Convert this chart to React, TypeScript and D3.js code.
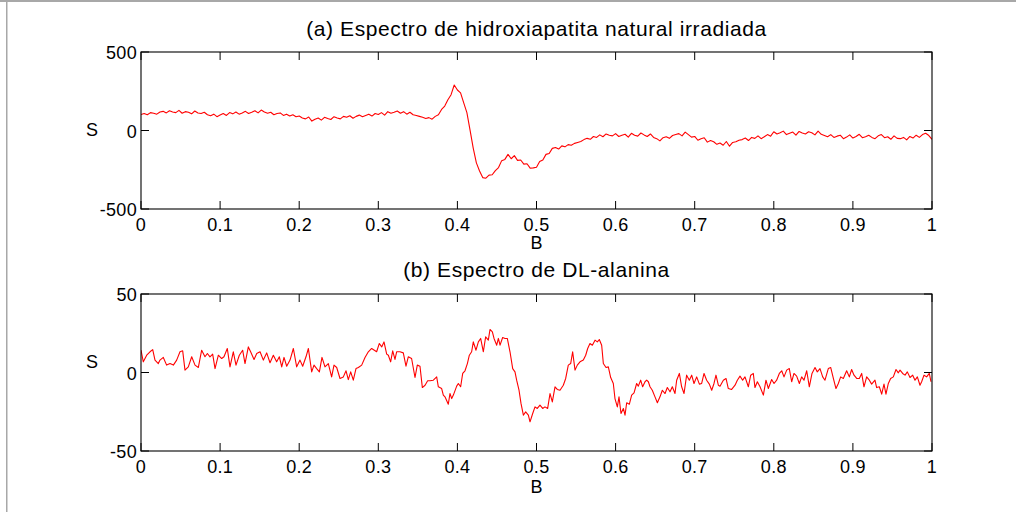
import React from 'react';
import * as d3 from 'd3';

// ---------- data ----------
const B_TICKS = [0, 0.1, 0.2, 0.3, 0.4, 0.5, 0.6, 0.7, 0.8, 0.9, 1];
const B_TICK_LABELS = ['0', '0.1', '0.2', '0.3', '0.4', '0.5', '0.6', '0.7', '0.8', '0.9', '1'];

const S1_TICKS = [-500, 0, 500];
const S1_TICK_LABELS = ['-500', '0', '500'];
const S2_TICKS = [-50, 0, 50];
const S2_TICK_LABELS = ['-50', '0', '50'];

const TITLE_A = '(a) Espectro de hidroxiapatita natural irradiada';
const TITLE_B = '(b) Espectro de DL-alanina';

const S1_STEP = 0.004;
const S1_VALUES = [
  102, 108, 100, 114, 110, 104, 118, 122, 112, 126,
  118, 114, 128, 110, 120, 116, 106, 124, 112, 108,
  116, 100, 94, 104, 88, 98, 108, 96, 114, 106,
  118, 104, 112, 122, 108, 116, 126, 112, 130, 118,
  110, 116, 100, 108, 112, 96, 104, 92, 100, 88,
  92, 80, 74, 86, 60, 72, 80, 66, 84, 76,
  70, 88, 80, 74, 90, 84, 94, 78, 90, 98,
  88, 96, 104, 92, 108, 102, 114, 98, 120, 110,
  116, 124, 110, 120, 104, 116, 100, 96, 90, 84,
  76, 82, 72, 90, 100, 134, 156, 196, 228, 290,
  258, 240, 176, 114, 2, -112, -206, -258, -300, -304,
  -284, -282, -256, -236, -192, -184, -152, -180, -160, -190,
  -188, -214, -212, -240, -238, -234, -198, -188, -152, -146,
  -114, -108, -118, -98, -104, -90, -94, -82, -76, -70,
  -58, -50, -56, -38, -44, -28, -40, -22, -30, -34,
  -20, -38, -30, -24, -42, -18, -30, -36, -16, -28,
  -38, -22, -44, -52, -66, -46, -40, -50, -32, -26,
  -20, -34, -10, -26, -42, -38, -62, -52, -46, -74,
  -64, -72, -88, -80, -94, -70, -100, -76, -72, -62,
  -58, -48, -64, -44, -50, -34, -52, -40, -26, -36,
  -8, -22, -14, -4, -26, -18, -10, -30, -6, -16,
  -22, -8, -14, -28, -4, -24, -32, -40, -26, -44,
  -36, -30, -52, -42, -28, -48, -38, -24, -46, -40,
  -30, -44, -52, -34, -26, -46, -40, -56, -34, -50,
  -52, -44, -60, -38, -48, -30, -44, -26, -18, -32,
  -56,
];

// Panel (b): B positions and S values
const B2 = [
  0, 0.0029, 0.0072, 0.0114, 0.0148, 0.0177, 0.0219, 0.024, 0.0282, 0.0324,
  0.0367, 0.0409, 0.0451, 0.0493, 0.0527, 0.0556, 0.0598, 0.0641, 0.0683, 0.0725,
  0.0767, 0.0809, 0.0839, 0.0872, 0.0906, 0.0936, 0.0978, 0.102, 0.1049, 0.1091,
  0.1125, 0.1167, 0.1201, 0.1243, 0.1285, 0.1315, 0.1357, 0.1386, 0.1429, 0.1463,
  0.1505, 0.1547, 0.1589, 0.1631, 0.1673, 0.1715, 0.1749, 0.1779, 0.1808, 0.1842,
  0.1884, 0.1926, 0.1968, 0.201, 0.2044, 0.2086, 0.2116, 0.2158, 0.2187, 0.2221,
  0.2255, 0.2288, 0.2326, 0.2368, 0.241, 0.244, 0.2474, 0.2516, 0.2558, 0.2592,
  0.2621, 0.2651, 0.2684, 0.2718, 0.2748, 0.279, 0.2832, 0.2874, 0.2916, 0.295,
  0.2979, 0.3013, 0.3043, 0.3072, 0.3106, 0.3127, 0.3156, 0.3182, 0.3211, 0.3232,
  0.3274, 0.3316, 0.335, 0.3379, 0.3421, 0.3464, 0.3493, 0.3527, 0.3557, 0.3591,
  0.3624, 0.3654, 0.3696, 0.3738, 0.3759, 0.3801, 0.3822, 0.3843, 0.3885, 0.3906,
  0.3928, 0.3949, 0.3991, 0.4012, 0.4041, 0.4067, 0.4096, 0.4126, 0.4151, 0.418,
  0.4201, 0.4235, 0.4265, 0.4294, 0.4328, 0.4357, 0.4391, 0.4412, 0.4442, 0.4463,
  0.4497, 0.4518, 0.4539, 0.4572, 0.4602, 0.4631, 0.4665, 0.4699, 0.4728, 0.4749,
  0.4779, 0.4804, 0.4834, 0.4863, 0.4897, 0.4918, 0.4952, 0.4981, 0.501, 0.5044,
  0.5078, 0.5107, 0.5141, 0.5171, 0.52, 0.5234, 0.5263, 0.5297, 0.5339, 0.5369,
  0.5402, 0.5432, 0.5457, 0.5487, 0.5516, 0.555, 0.5592, 0.5622, 0.5647, 0.5676,
  0.5706, 0.574, 0.5769, 0.5794, 0.5824, 0.5845, 0.5879, 0.5908, 0.5938, 0.5971,
  0.5992, 0.6022, 0.6043, 0.6068, 0.6098, 0.6119, 0.614, 0.6174, 0.6203, 0.6233,
  0.6266, 0.6287, 0.6317, 0.6342, 0.6372, 0.6393, 0.6414, 0.6435, 0.6464, 0.6498,
  0.6528, 0.6561, 0.6591, 0.6625, 0.6654, 0.6688, 0.6717, 0.6751, 0.6772, 0.6806,
  0.6835, 0.6865, 0.6898, 0.6932, 0.6962, 0.6991, 0.7025, 0.7059, 0.7088, 0.7118,
  0.7151, 0.7185, 0.7215, 0.7244, 0.7269, 0.7299, 0.732, 0.7362, 0.7396, 0.7425,
  0.7467, 0.751, 0.7539, 0.7573, 0.7606, 0.7636, 0.7678, 0.7708, 0.7741, 0.7762,
  0.7792, 0.7826, 0.7868, 0.7901, 0.7931, 0.7973, 0.8003, 0.8036, 0.807, 0.81,
  0.8129, 0.8163, 0.8196, 0.8226, 0.8255, 0.8289, 0.8323, 0.8352, 0.8382, 0.8416,
  0.8449, 0.8483, 0.8521, 0.855, 0.8584, 0.8618, 0.8647, 0.8689, 0.8719, 0.8753,
  0.8786, 0.8816, 0.8845, 0.8879, 0.8921, 0.8955, 0.8984, 0.9014, 0.9048, 0.9081,
  0.9111, 0.914, 0.9174, 0.9208, 0.9237, 0.9279, 0.93, 0.9334, 0.9364, 0.9393,
  0.9418, 0.9448, 0.9477, 0.9511, 0.9545, 0.9574, 0.9596, 0.9629, 0.9659, 0.9688,
  0.9722, 0.9756, 0.9785, 0.9815, 0.9848, 0.9869, 0.9899, 0.9932, 0.9966, 0.9987,
];
const S2 = [
  14.2, 6.8, 11.0, 13.2, 14.6, 7.9, 5.7, 7.9, 9.6, 4.7,
  5.7, 4.7, 7.9, 13.2, 13.8, 1.5, 3.6, 10.0, 4.7, 3.2,
  14.2, 10.0, 12.1, 10.0, 11.7, 2.5, 11.0, 8.9, 10.0, 15.3,
  3.6, 13.2, 4.7, 11.0, 14.2, 5.7, 16.3, 13.2, 8.3, 12.1,
  13.2, 7.9, 12.5, 6.2, 11.0, 6.8, 10.0, 3.6, 9.6, 4.0,
  7.9, 15.3, 3.6, 7.9, 4.0, 10.0, 15.3, 0.4, 4.7, 2.5,
  0.4, 9.6, 3.6, 5.7, -2.8, 4.7, 3.2, -3.8, -2.8, 1.1,
  -4.5, 0.4, -4.9, 2.5, 3.2, 4.7, 9.6, 13.2, 15.3, 14.2,
  13.2, 18.5, 16.3, 19.5, 11.7, 11.0, 6.8, 13.8, 8.3, 13.2,
  13.2, 12.5, 4.0, 10.0, 8.9, -3.2, 4.7, 4.0, -9.6, -8.1,
  -5.3, -5.3, -4.9, -2.8, -9.1, -10.2, -14.4, -15.5, -20.2, -13.4,
  -16.6, -14.4, -8.7, -7.0, -9.1, -0.6, 1.1, 5.7, 11.0, 13.2,
  19.5, 14.2, 19.5, 21.7, 13.2, 22.7, 20.6, 27.4, 25.9, 21.7,
  17.4, 21.7, 17.4, 22.3, 21.7, 21.7, 13.2, 2.5, 0.4, -4.9,
  -11.3, -19.7, -27.2, -25.1, -27.2, -31.4, -26.1, -21.9, -22.9, -20.8,
  -22.9, -21.9, -22.9, -13.4, -18.7, -9.1, -10.8, -11.3, -8.1, -3.8,
  4.7, 5.7, 13.2, 1.5, 4.7, 6.8, 7.9, 11.0, 15.3, 18.5,
  17.4, 20.6, 19.5, 21.0, 17.4, 5.7, 3.2, 3.6, -3.2, -7.0,
  -16.6, -21.9, -15.5, -26.1, -22.9, -27.2, -19.3, -20.2, -14.4, -13.0,
  -7.0, -8.7, -4.9, -9.1, -5.9, -4.9, -5.9, -9.1, -11.3, -15.5,
  -19.3, -15.5, -11.3, -13.4, -9.6, -12.3, -9.1, -13.4, -4.9, -0.6,
  -9.1, -13.4, -1.7, -4.9, -1.7, -7.0, -2.8, -7.4, -7.0, -0.6,
  -4.9, -7.4, -11.3, -7.0, -1.7, -8.1, -8.7, -4.9, -3.8, -10.2,
  -10.8, -8.1, -4.9, -2.3, -4.9, -2.8, -9.1, -1.7, -0.6, -9.6,
  -5.9, -9.1, -14.4, -4.9, -10.2, -4.5, -7.0, -4.9, -0.6, 1.1,
  -2.8, 1.5, 2.5, -5.9, -0.6, -2.3, -7.0, -2.8, -4.9, 1.1,
  -9.1, -0.6, 3.2, 0.4, 2.5, -2.8, -4.9, 2.5, 3.2, -3.8,
  -10.2, -7.0, -2.8, -3.8, 1.1, -2.8, 1.9, -1.7, -3.8, -3.8,
  -0.6, -9.1, -2.8, -4.9, -7.4, -4.9, -9.6, -9.1, -13.8, -7.4,
  -13.8, -7.0, -3.8, -2.8, 1.9, -0.2, 1.5, -0.6, -1.7, 0.4,
  -3.2, -1.7, -4.9, -2.8, -8.1, -5.9, -1.7, -2.8, -0.6, -5.9,
];

// ---------- layout / style ----------
const W = 1016;
const H = 512;
const FONT = '"Liberation Sans", Arial, Helvetica, sans-serif';
const TICK_FS = 18;
const TICK_LS = 0.3;
const TITLE_FS = 21;
const TITLE_LS = 0.6;
const TICK_LEN = 8;
const LINE_COLOR = '#ff0000';

type PanelProps = {
  top: number;
  bottom: number;
  left: number;
  right: number;
  yDomain: [number, number];
  yTicks: number[];
  yTickLabels: string[];
  points: [number, number][];
  title: string;
  titleY: number;
  sLabelY: number;
  bLabelY: number;
};

function Panel(p: PanelProps) {
  const x = d3.scaleLinear().domain([0, 1]).range([p.left, p.right]);
  const y = d3.scaleLinear().domain(p.yDomain).range([p.bottom, p.top]);
  const line = d3
    .line<[number, number]>()
    .x((d) => x(d[0]))
    .y((d) => y(d[1]));
  const cx = (p.left + p.right) / 2;
  const clipId = `clip-${Math.round(p.top)}`;
  return (
    <g>
      <defs>
        <clipPath id={clipId}>
          <rect x={p.left} y={p.top} width={p.right - p.left} height={p.bottom - p.top} />
        </clipPath>
      </defs>
      <text
        x={cx}
        y={p.titleY}
        textAnchor="middle"
        fontFamily={FONT}
        fontSize={TITLE_FS}
        letterSpacing={TITLE_LS}
        fill="#000"
      >
        {p.title}
      </text>
      <path
        d={line(p.points) || ''}
        fill="none"
        stroke={LINE_COLOR}
        strokeWidth={1.1}
        strokeLinejoin="round"
        clipPath={`url(#${clipId})`}
      />
      <rect
        x={p.left}
        y={p.top}
        width={p.right - p.left}
        height={p.bottom - p.top}
        fill="none"
        stroke="#000"
        strokeWidth={1.1}
      />
      {B_TICKS.map((t, i) => (
        <g key={`bt${i}`}>
          <line x1={x(t)} x2={x(t)} y1={p.bottom} y2={p.bottom - TICK_LEN} stroke="#000" strokeWidth={1} />
          <line x1={x(t)} x2={x(t)} y1={p.top} y2={p.top + TICK_LEN} stroke="#000" strokeWidth={1} />
          <text
            x={x(t)}
            y={p.bottom + 22}
            textAnchor="middle"
            fontFamily={FONT}
            fontSize={TICK_FS}
            letterSpacing={TICK_LS}
            fill="#000"
          >
            {B_TICK_LABELS[i]}
          </text>
        </g>
      ))}
      {p.yTicks.map((t, i) => (
        <g key={`st${i}`}>
          <line x1={p.left} x2={p.left + TICK_LEN} y1={y(t)} y2={y(t)} stroke="#000" strokeWidth={1} />
          <line x1={p.right} x2={p.right - TICK_LEN} y1={y(t)} y2={y(t)} stroke="#000" strokeWidth={1} />
          <text
            x={p.left - 4}
            y={y(t) + 7}
            textAnchor="end"
            fontFamily={FONT}
            fontSize={TICK_FS}
            letterSpacing={TICK_LS}
            fill="#000"
          >
            {p.yTickLabels[i]}
          </text>
        </g>
      ))}
      <text
        x={92}
        y={p.sLabelY}
        textAnchor="middle"
        fontFamily={FONT}
        fontSize={TICK_FS}
        fill="#000"
      >
        S
      </text>
      <text
        x={cx}
        y={p.bLabelY}
        textAnchor="middle"
        fontFamily={FONT}
        fontSize={TICK_FS}
        fill="#000"
      >
        B
      </text>
    </g>
  );
}

export default function App() {
  const pts1: [number, number][] = S1_VALUES.map((s, i) => [i * S1_STEP, s]);
  const pts2: [number, number][] = B2.map((b, i) => [b, S2[i]]);
  return (
    <svg
      width={W}
      height={H}
      viewBox={`0 0 ${W} ${H}`}
      style={{ position: 'absolute', left: 0, top: 0, background: '#fff' }}
    >
      <rect x={0} y={0} width={W} height={H} fill="#fff" />
      <rect x={0} y={0} width={W} height={2} fill="#a8a8a8" />
      <rect x={6} y={0} width={1.5} height={H} fill="#a8a8a8" />
      <Panel
        top={52}
        bottom={209}
        left={141}
        right={932}
        yDomain={[-500, 500]}
        yTicks={S1_TICKS}
        yTickLabels={S1_TICK_LABELS}
        points={pts1}
        title={TITLE_A}
        titleY={36}
        sLabelY={136}
        bLabelY={249}
      />
      <Panel
        top={294}
        bottom={451}
        left={141}
        right={932}
        yDomain={[-50, 50]}
        yTicks={S2_TICKS}
        yTickLabels={S2_TICK_LABELS}
        points={pts2}
        title={TITLE_B}
        titleY={277}
        sLabelY={368}
        bLabelY={493}
      />
    </svg>
  );
}
